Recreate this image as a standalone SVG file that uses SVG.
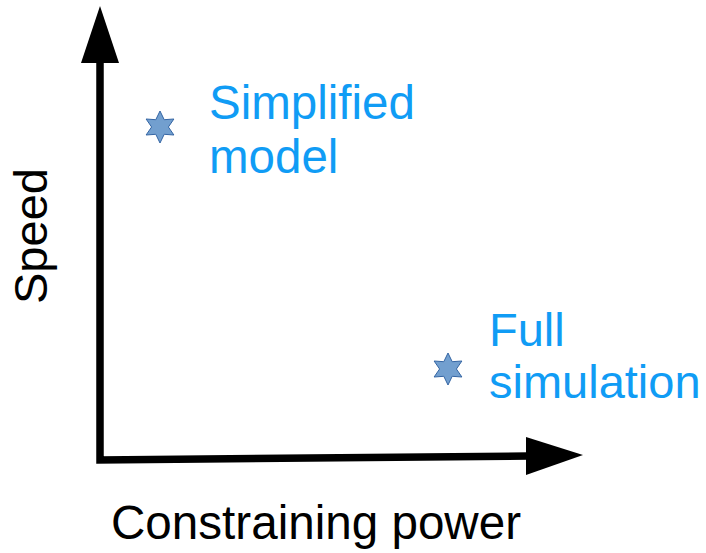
<svg xmlns="http://www.w3.org/2000/svg" width="706" height="553" viewBox="0 0 706 553">
  <style>
    .axis { stroke: #000; stroke-width: 7.5; fill: none; }
    .head { fill: #000; }
    .star { fill: #729fcf; stroke: #3465a4; stroke-width: 1; }
    .label { font-family: "Liberation Sans", Arial, sans-serif; font-size: 47px; }
    .blue { fill: #109cf5; }
    .black { fill: #000; }
  </style>
  <defs>
    <!-- six-pointed star, outer radius 16 -->
    <polygon id="hexstar" points="0,-16 4.2,-7.3 13.9,-8 8.4,0 13.9,8 4.2,7.3 0,16 -4.2,7.3 -13.9,8 -8.4,0 -13.9,-8 -4.2,-7.3"/>
  </defs>

  <g id="axes">
    <polyline class="axis" points="100,60 100,460 528,456"/>
    <polygon class="head" points="100,6 119,63 81,63"/>
    <polygon class="head" points="583,455 526,437 526,475"/>
  </g>

  <g id="axis-labels">
    <text class="label black" x="111" y="539" style="font-size:47.6px">Constraining power</text>
    <text class="label black" transform="translate(47,304) rotate(-90)">Speed</text>
  </g>

  <g id="simplified-model">
    <use href="#hexstar" class="star" transform="translate(160,127)"/>
    <text class="label blue" x="209" y="119" style="font-size:47.5px">Simplified</text>
    <text class="label blue" x="209" y="173" style="font-size:47.5px">model</text>
  </g>

  <g id="full-simulation">
    <use href="#hexstar" class="star" transform="translate(448,369)"/>
    <text class="label blue" x="489" y="346">Full</text>
    <text class="label blue" x="489" y="398">simulation</text>
  </g>
</svg>
